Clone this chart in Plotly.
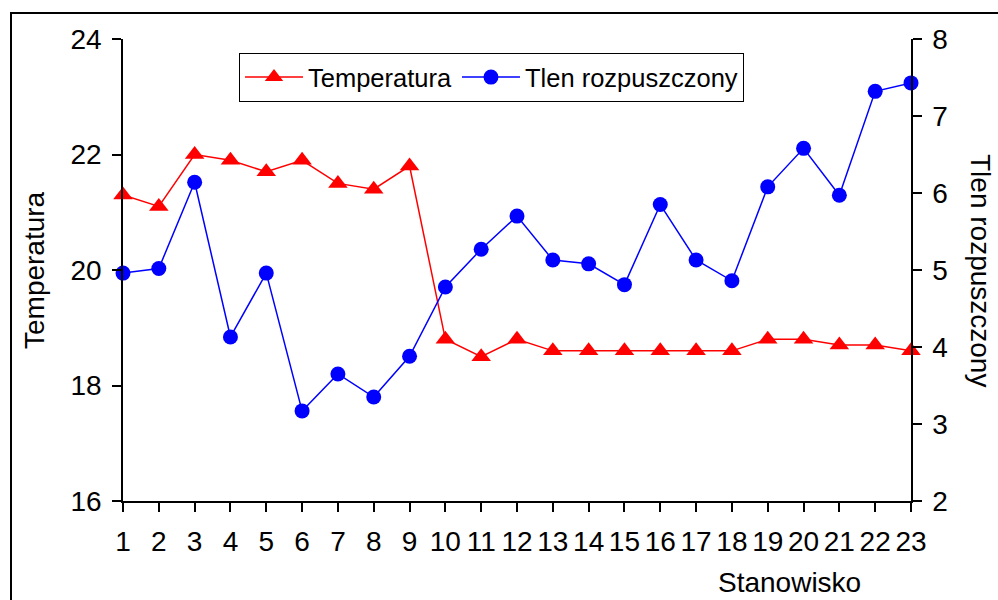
import plotly.graph_objects as go

stations = list(range(1, 24))
tick_labels = [str(s) for s in stations]
temperatura = [21.3, 21.1, 22.0, 21.9, 21.7, 21.9, 21.5, 21.4, 21.8, 18.8, 18.5, 18.8,
               18.6, 18.6, 18.6, 18.6, 18.6, 18.6, 18.8, 18.8, 18.7, 18.7, 18.6]
tlen = [4.96, 5.02, 6.14, 4.13, 4.96, 3.17, 3.65, 3.35, 3.88, 4.78, 5.27, 5.70,
        5.13, 5.08, 4.81, 5.85, 5.13, 4.86, 6.08, 6.58, 5.97, 7.32, 7.43]

W, H = 998, 600
L, R, T, B = 123, 87, 39, 99
pw, ph = W - L - R, H - T - B

def px(x):
    return (x - L) / pw

def py(y):
    return (H - B - y) / ph

FONT = "Liberation Sans, Arial, sans-serif"
FS = 28
LFS = 25.5

fig = go.Figure()
fig.add_trace(go.Scatter(
    x=stations, y=temperatura, name="Temperatura", mode="lines+markers",
    line=dict(color="#FF0000", width=1.5),
    marker=dict(symbol="triangle-up", size=17, color="#FF0000"),
    cliponaxis=False, yaxis="y"))
fig.add_trace(go.Scatter(
    x=stations, y=tlen, name="Tlen rozpuszczony", mode="lines+markers",
    line=dict(color="#0000FF", width=1.5),
    marker=dict(symbol="circle", size=15, color="#0000FF"),
    cliponaxis=False, yaxis="y2"))

axis_common = dict(showgrid=False, zeroline=False, showline=True, linecolor="black",
                   linewidth=1.5, ticks="outside", ticklen=9, tickcolor="black",
                   tickwidth=1.5, tickfont=dict(family=FONT, size=FS, color="black"))

fig.update_layout(
    width=W, height=H,
    margin=dict(l=L, r=R, t=T, b=B, pad=0),
    paper_bgcolor="white", plot_bgcolor="white",
    font=dict(family=FONT, size=FS, color="black"),
    xaxis=dict(range=[1, 23], tickmode="array", tickvals=stations, ticktext=tick_labels,
               ticklabelstandoff=6, **axis_common),
    yaxis=dict(range=[16, 24], tickvals=[16, 18, 20, 22, 24], ticklabelstandoff=5,
               **axis_common),
    yaxis2=dict(range=[2, 8], tickvals=[2, 3, 4, 5, 6, 7, 8], overlaying="y", side="right",
                ticklabelstandoff=5, **axis_common),
    showlegend=True,
    legend=dict(orientation="h", x=px(239), y=py(53), xanchor="left", yanchor="top",
                bgcolor="white", bordercolor="black", borderwidth=1,
                font=dict(family=FONT, size=LFS, color="black"), itemwidth=58),
    shapes=[dict(type="rect", xref="paper", yref="paper",
                 x0=px(11), x1=px(1005), y0=py(610), y1=py(13),
                 line=dict(color="black", width=2), fillcolor="rgba(0,0,0,0)", layer="below")],
    annotations=[
        dict(text="Temperatura", xref="paper", yref="paper", x=px(34), y=py(270),
             xanchor="center", yanchor="middle",
             textangle=-90, showarrow=False, font=dict(family=FONT, size=FS)),
        dict(text="Tlen rozpuszczony", xref="paper", yref="paper", x=px(981), y=py(270),
             xanchor="center", yanchor="middle",
             textangle=90, showarrow=False, font=dict(family=FONT, size=FS)),
        dict(text="Stanowisko", xref="paper", yref="paper", x=px(789), y=py(582),
             xanchor="center", yanchor="middle",
             showarrow=False, font=dict(family=FONT, size=FS)),
    ],
)

fig.write_html("out.html")
